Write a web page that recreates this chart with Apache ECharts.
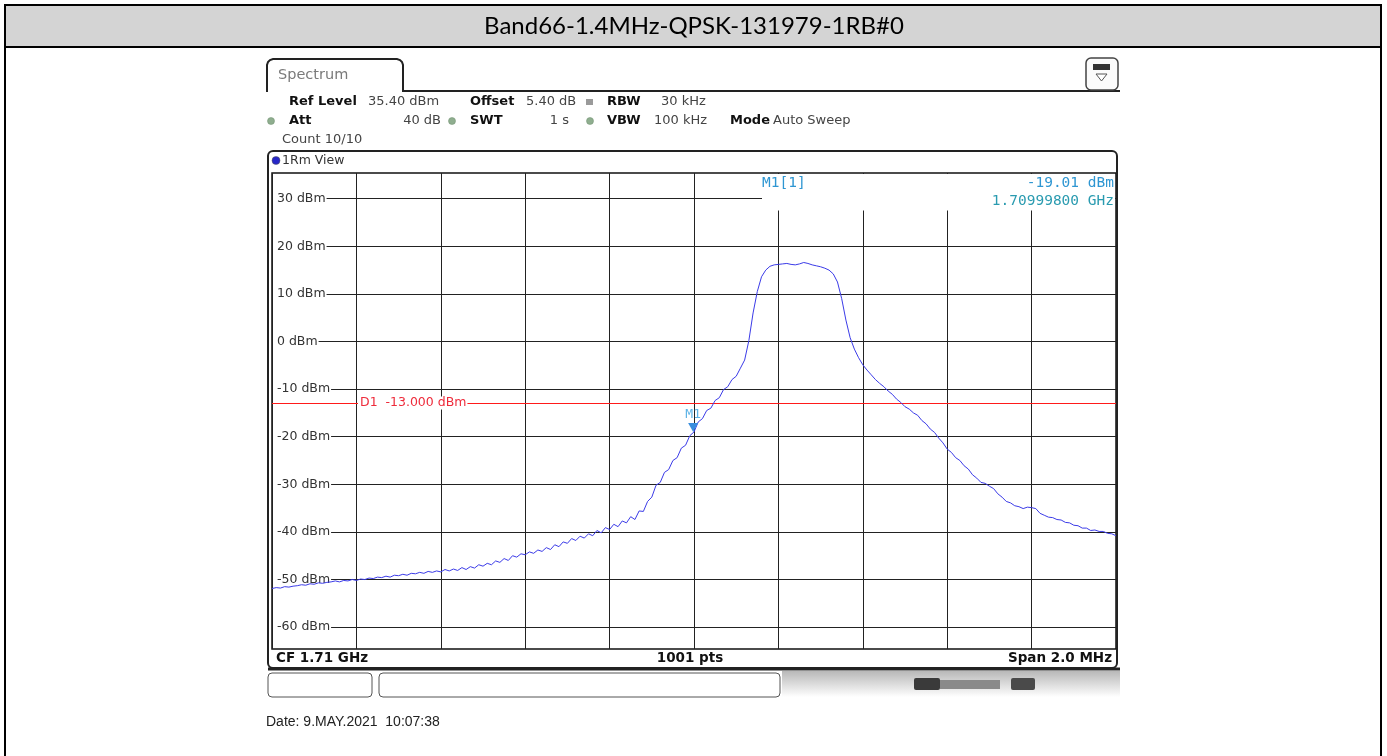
<!DOCTYPE html>
<html>
<head>
<meta charset="utf-8">
<script src="https://cdn.jsdelivr.net/npm/echarts@6/dist/echarts.min.js"></script>
<style>
html,body{margin:0;padding:0;background:#fff;}
#c{width:1387px;height:756px;}
</style>
</head>
<body>
<div id="c"></div>
<script>
// ---- data ----
const chartTitle = 'Band66-1.4MHz-QPSK-131979-1RB#0';
const sweepStartKHz = 1709000;   // CF 1.71 GHz - span/2
const sweepStopKHz = 1711000;    // CF 1.71 GHz + span/2
const sweepStepKHz = 10;
const refLevel = 35.4;
const bottomLevel = -64.6;
const levelTicks = [30, 20, 10, 0, -10, -20, -30, -40, -50, -60];
const freqGridStepKHz = 200;
const displayLineLevel = -13;
const markerFreqKHz = 1709998;
const markerLevel = -19.01;
const levels = [
  -51.9, -51.7, -51.8, -51.5, -51.6, -51.4, -51.3, -51.1, -51.2, -50.9,
  -51.0, -50.7, -50.8, -50.6, -50.5, -50.3, -50.5, -50.2, -50.3, -50.0,
  -50.2, -49.9, -50.0, -49.7, -49.8, -49.5, -49.6, -49.3, -49.5, -49.1,
  -49.2, -48.9, -49.1, -48.7, -48.8, -48.5, -48.7, -48.3, -48.5, -48.2,
  -48.4, -47.9, -48.2, -47.8, -48.1, -47.5, -47.9, -47.3, -47.6, -46.9,
  -47.2, -46.6, -46.9, -46.1, -46.4, -45.6, -46.0, -45.0, -45.3, -44.6,
  -44.8, -44.2, -44.5, -43.8, -44.1, -43.3, -43.7, -42.7, -43.1, -42.1,
  -42.4, -41.4, -41.8, -40.9, -41.3, -40.4, -40.8, -39.7, -40.2, -39.1,
  -39.5, -38.4, -38.9, -37.7, -38.1, -36.8, -37.4, -35.6, -35.7, -33.6,
  -32.7, -30.2, -29.6, -27.5, -26.9, -25.0, -24.4, -22.4, -21.8, -19.8,
  -19.0, -16.9, -16.2, -14.5, -14.0, -12.4, -11.8, -10.1, -9.5, -8.0,
  -7.3, -5.6, -3.9, 0.2, 6.0, 10.5, 13.6, 15.0, 15.8, 16.1,
  16.2, 16.3, 16.4, 16.2, 16.1, 16.3, 16.6, 16.4, 16.1, 15.9,
  15.7, 15.4, 15.0, 14.2, 12.5, 9.0, 4.5, 0.8, -1.6, -3.4,
  -4.9, -6.0, -7.0, -8.0, -8.8, -9.5, -10.4, -11.1, -12.1, -12.8,
  -13.7, -14.2, -15.0, -15.5, -16.6, -17.3, -18.4, -19.1, -20.3, -21.3,
  -22.6, -23.3, -24.4, -25.0, -26.1, -26.8, -28.0, -28.7, -29.6, -29.8,
  -30.4, -30.9, -32.0, -32.7, -33.6, -33.9, -34.5, -34.7, -35.1, -34.8,
  -34.9, -35.1, -36.1, -36.5, -36.9, -37.0, -37.4, -37.5, -38.0, -38.1,
  -38.6, -38.7, -39.2, -39.2, -39.7, -39.6, -39.9, -39.9, -40.3, -40.4,
  -40.8
];
const traceData = levels.map((v, i) => [sweepStartKHz + i * sweepStepKHz, v]);

// ---- styling ----
const UI = 'DejaVu Sans';
const MONO = 'DejaVu Sans Mono';
const traceColor = '#3b3be8';
const markerColor = '#2e96d2';

function txt(x, y, s, o) {
  o = o || {};
  return {
    type: 'text', x: x, y: y, z: o.z || 20, silent: true,
    style: {
      text: s, fill: o.color || '#444', fontFamily: o.font || UI,
      fontSize: o.size || 13, fontWeight: o.bold ? 'bold' : 'normal',
      align: o.align || 'left', verticalAlign: 'middle',
      backgroundColor: o.bg, padding: o.pad
    }
  };
}
function dot(x, y, color) {
  return { type: 'circle', z: 20, silent: true, shape: { cx: x, cy: y, r: 3.5 },
    style: { fill: color, stroke: '#6f8f6f', lineWidth: 0.5 } };
}

const graphics = [
  // document table frame
  { type: 'rect', z: 0, silent: true, shape: { x: 5, y: 5, width: 1376, height: 42 }, style: { fill: '#d4d4d4' } },
  { type: 'rect', z: 1, silent: true, shape: { x: 5, y: 5, width: 1376, height: 800 }, style: { fill: 'none', stroke: '#000', lineWidth: 2 } },
  { type: 'line', z: 1, silent: true, shape: { x1: 5, y1: 47, x2: 1381, y2: 47 }, style: { stroke: '#000', lineWidth: 2 } },
  txt(694, 26, chartTitle, { font: 'Lato', size: 24, color: '#000', align: 'center' }),
  // spectrum tab
  { type: 'polyline', z: 10, silent: true,
    shape: { points: [[267, 92], [267, 65], [268, 62], [270, 60], [273, 59], [397, 59], [400, 60], [402, 62], [403, 65], [403, 91], [1120, 91]] },
    style: { fill: 'none', stroke: '#222', lineWidth: 2 } },
  txt(278, 75, 'Spectrum', { size: 14.5, color: '#7a7a7a' }),
  // top-right icon
  { type: 'rect', z: 10, silent: true, shape: { x: 1086, y: 58, width: 32, height: 32, r: 5 }, style: { fill: '#fbfbfb', stroke: '#444', lineWidth: 1.5 } },
  { type: 'rect', z: 11, silent: true, shape: { x: 1093, y: 64, width: 17, height: 6 }, style: { fill: '#333' } },
  { type: 'polygon', z: 11, silent: true, shape: { points: [[1096, 74], [1107, 74], [1101.5, 81]] }, style: { fill: '#fff', stroke: '#555', lineWidth: 1 } },
  // settings rows
  txt(289, 102, 'Ref Level', { bold: true, color: '#111' }),
  txt(368, 102, '35.40 dBm'),
  txt(470, 102, 'Offset', { bold: true, color: '#111' }),
  txt(526, 102, '5.40 dB'),
  { type: 'rect', z: 20, silent: true, shape: { x: 586, y: 99, width: 7, height: 6 }, style: { fill: '#9a9a9a' } },
  txt(607, 102, 'RBW', { bold: true, color: '#111' }),
  txt(661, 102, '30 kHz'),
  dot(271, 121, '#8fae8f'),
  txt(289, 121, 'Att', { bold: true, color: '#111' }),
  txt(441, 121, '40 dB', { align: 'right' }),
  dot(452, 121, '#8fae8f'),
  txt(470, 121, 'SWT', { bold: true, color: '#111' }),
  txt(569, 121, '1 s', { align: 'right' }),
  dot(590, 121, '#8fae8f'),
  txt(607, 121, 'VBW', { bold: true, color: '#111' }),
  txt(654, 121, '100 kHz'),
  txt(730, 121, 'Mode', { bold: true, color: '#111' }),
  txt(773, 121, 'Auto Sweep'),
  txt(282, 140, 'Count 10/10'),
  // view box
  { type: 'rect', z: 10, silent: true, shape: { x: 268, y: 151, width: 849, height: 517, r: 5 }, style: { fill: 'none', stroke: '#222', lineWidth: 2 } },
  { type: 'line', z: 10, silent: true, shape: { x1: 268, y1: 669, x2: 1120, y2: 669 }, style: { stroke: '#222', lineWidth: 3 } },
  { type: 'circle', z: 20, silent: true, shape: { cx: 276, cy: 160.5, r: 4 }, style: { fill: '#2626c8', stroke: '#555', lineWidth: 0.5 } },
  txt(282, 161, '1Rm View', { size: 12.5, color: '#333' }),
  // marker readout box
  { type: 'rect', z: 15, silent: true, shape: { x: 762, y: 174, width: 353, height: 36.5 }, style: { fill: '#fff' } },
  txt(762, 183, 'M1[1]', { font: MONO, size: 14.5, color: markerColor, z: 21 }),
  txt(1114, 183, '-19.01 dBm', { font: MONO, size: 14.5, color: markerColor, align: 'right', z: 21 }),
  txt(1114, 201, '1.70999800 GHz', { font: MONO, size: 14.5, color: '#2a9bb0', align: 'right', z: 21 }),
  // display line label
  txt(358, 403, 'D1  -13.000 dBm', { size: 12.5, color: '#ee2b3b', bg: '#fff', pad: [0, 1, 0, 2], z: 21 }),
  // bottom row
  txt(276, 658, 'CF 1.71 GHz', { bold: true, size: 13.5, color: '#111' }),
  txt(690, 658, '1001 pts', { bold: true, size: 13.5, color: '#111', align: 'center' }),
  txt(1112, 658, 'Span 2.0 MHz', { bold: true, size: 13.5, color: '#111', align: 'right' }),
  // status bar
  { type: 'rect', z: 10, silent: true, shape: { x: 268, y: 673, width: 104, height: 24, r: 4 }, style: { fill: '#fff', stroke: '#555', lineWidth: 1 } },
  { type: 'rect', z: 10, silent: true, shape: { x: 379, y: 673, width: 401, height: 24, r: 4 }, style: { fill: '#fff', stroke: '#555', lineWidth: 1 } },
  { type: 'rect', z: 9, silent: true, shape: { x: 782, y: 671, width: 338, height: 26 },
    style: { fill: { type: 'linear', x: 0, y: 0, x2: 0, y2: 1, colorStops: [{ offset: 0, color: '#b8b8b8' }, { offset: 1, color: '#ffffff' }] } } },
  { type: 'rect', z: 11, silent: true, shape: { x: 914, y: 678, width: 26, height: 12, r: 2 }, style: { fill: '#3a3a3a' } },
  { type: 'rect', z: 11, silent: true, shape: { x: 940, y: 680, width: 60, height: 9 }, style: { fill: '#8a8a8a' } },
  { type: 'rect', z: 11, silent: true, shape: { x: 1011, y: 678, width: 24, height: 12, r: 2 }, style: { fill: '#4a4a4a' } },
  txt(266, 722, 'Date: 9.MAY.2021  10:07:38', { font: 'Liberation Sans', size: 14, color: '#222' })
];

const chart = echarts.init(document.getElementById('c'), null, { renderer: 'canvas', width: 1387, height: 756 });
chart.setOption({
  animation: false,
  backgroundColor: '#fff',
  graphic: { elements: graphics },
  grid: { left: 272, right: 271, top: 173, bottom: 107, show: true, borderColor: '#111', borderWidth: 1.5, backgroundColor: 'transparent' },
  xAxis: {
    type: 'value', min: sweepStartKHz, max: sweepStopKHz, interval: freqGridStepKHz,
    axisLine: { show: false }, axisTick: { show: false }, axisLabel: { show: false },
    splitLine: { show: true, lineStyle: { color: '#222', width: 1 } }
  },
  yAxis: {
    type: 'value', min: bottomLevel, max: refLevel, z: 3,
    axisLine: { show: false }, axisTick: { show: false },
    splitLine: { show: false },
    axisLabel: {
      show: true, inside: true, margin: 1, customValues: levelTicks,
      formatter: v => v + ' dBm', fontFamily: UI, fontSize: 12.5, color: '#333',
      backgroundColor: '#fff', padding: [1, 1, 1, 4]
    }
  },
  series: [
    {
      name: 'grid', type: 'line', z: 1, silent: true, data: traceData, showSymbol: false,
      lineStyle: { opacity: 0 },
      markLine: {
        z: 1, silent: true, symbol: 'none', animation: false,
        label: { show: false },
        lineStyle: { color: '#222', width: 1, type: 'solid' },
        data: levelTicks.map(v => ({ yAxis: v }))
      }
    },
    {
      name: 'Trace 1', type: 'line', z: 5, data: traceData, showSymbol: false, silent: true,
      lineStyle: { color: traceColor, width: 1 },
      markLine: {
        z: 5, silent: true, symbol: 'none', animation: false,
        label: { show: false },
        lineStyle: { color: '#ff1a1a', width: 1, type: 'solid' },
        data: [{ yAxis: displayLineLevel }]
      },
      markPoint: {
        z: 6, silent: true, animation: false,
        data: [{ coord: [markerFreqKHz, markerLevel], name: 'M1' }],
        symbol: 'triangle', symbolSize: [10, 9], symbolRotate: 180, symbolOffset: [0, -4.5],
        itemStyle: { color: '#3a8ede' },
        label: { show: true, formatter: 'M1', position: 'top', distance: 2, color: '#5fb4e6', fontFamily: MONO, fontSize: 13 }
      }
    }
  ]
});
</script>
</body>
</html>
